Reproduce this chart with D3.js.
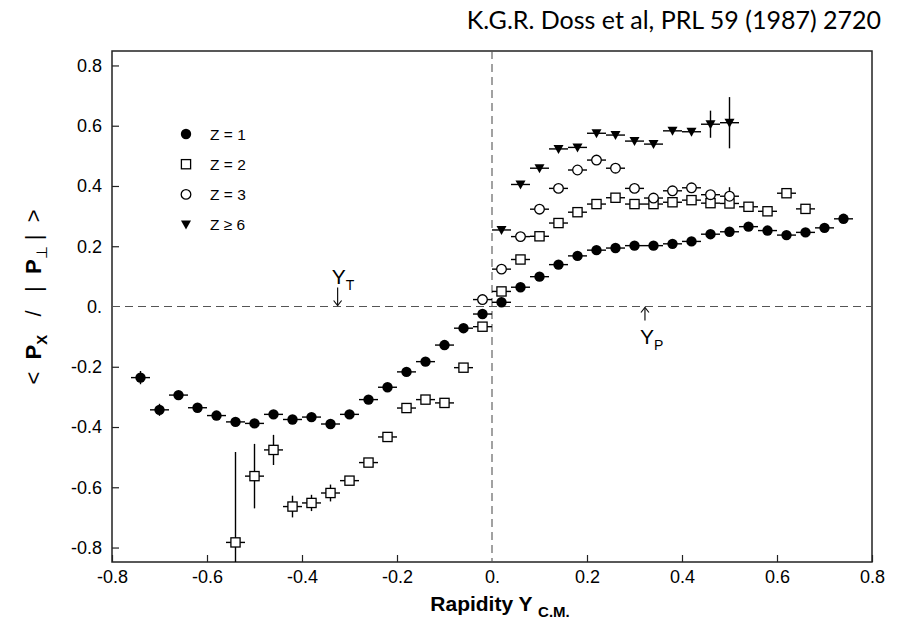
<!DOCTYPE html>
<html>
<head>
<meta charset="utf-8">
<script src="https://cdn.jsdelivr.net/npm/d3@7"></script>
<style>
  body { margin: 0; background: #fff; }
  text { font-family: "Liberation Sans", Arial, sans-serif; fill: #000; }
</style>
</head>
<body>
<svg id="chart" width="905" height="631"></svg>
<script>
// Z = 1 (filled circles)
var z1X = [-0.74, -0.70, -0.66, -0.62, -0.58, -0.54, -0.50, -0.46, -0.42, -0.38, -0.34, -0.30, -0.26,
           -0.22, -0.18, -0.14, -0.10, -0.06, -0.02, 0.02, 0.06, 0.10, 0.14, 0.18, 0.22, 0.26,
           0.30, 0.34, 0.38, 0.42, 0.46, 0.50, 0.54, 0.58, 0.62, 0.66, 0.70, 0.74];
var z1Y = [-0.236, -0.343, -0.294, -0.336, -0.362, -0.383, -0.388, -0.358, -0.375, -0.367, -0.390, -0.358, -0.309,
           -0.268, -0.217, -0.183, -0.128, -0.072, -0.025, 0.014, 0.064, 0.099, 0.139, 0.168, 0.187, 0.194,
           0.202, 0.202, 0.208, 0.216, 0.240, 0.248, 0.265, 0.252, 0.237, 0.246, 0.261, 0.291];
var z1Err = [0.022, 0.02, 0, 0, 0, 0, 0, 0, 0, 0, 0, 0, 0,
             0, 0, 0, 0, 0, 0, 0, 0, 0, 0, 0, 0, 0,
             0, 0, 0, 0, 0, 0, 0, 0, 0, 0, 0, 0];

// Z = 2 (open squares)
var z2X = [-0.54, -0.50, -0.46, -0.42, -0.38, -0.34, -0.30, -0.26, -0.22, -0.18, -0.14, -0.10, -0.06, -0.02,
           0.02, 0.06, 0.10, 0.14, 0.18, 0.22, 0.26, 0.30, 0.34, 0.38, 0.42, 0.46, 0.50, 0.54, 0.58, 0.62, 0.66];
var z2Y = [-0.783, -0.563, -0.476, -0.664, -0.652, -0.619, -0.578, -0.518, -0.433, -0.337, -0.309, -0.320, -0.203, -0.067,
           0.050, 0.156, 0.233, 0.277, 0.313, 0.340, 0.361, 0.340, 0.340, 0.346, 0.353, 0.343, 0.342, 0.331, 0.316, 0.376, 0.324];
var z2Err = [0.30, 0.107, 0.05, 0.036, 0.027, 0.028, 0, 0, 0, 0, 0, 0, 0, 0,
             0, 0, 0, 0, 0, 0, 0, 0, 0, 0, 0, 0, 0, 0, 0, 0, 0];

// Z = 3 (open circles)
var z3X = [-0.02, 0.02, 0.06, 0.10, 0.14, 0.18, 0.22, 0.26, 0.30, 0.34, 0.38, 0.42, 0.46, 0.50];
var z3Y = [0.023, 0.124, 0.232, 0.323, 0.392, 0.453, 0.486, 0.459, 0.392, 0.360, 0.384, 0.394, 0.371, 0.366];
var z3Err = [0, 0, 0, 0, 0, 0, 0, 0, 0, 0, 0, 0, 0.012, 0.03];

// Z >= 6 (filled down triangles)
var z6X = [0.02, 0.06, 0.10, 0.14, 0.18, 0.22, 0.26, 0.30, 0.34, 0.38, 0.42, 0.46, 0.50];
var z6Y = [0.254, 0.405, 0.459, 0.523, 0.528, 0.575, 0.569, 0.549, 0.539, 0.583, 0.580, 0.605, 0.610];
var z6Err = [0, 0, 0, 0, 0, 0, 0, 0, 0, 0, 0, 0.045, 0.085];

var xErr = 0.02;
var xTicks = [-0.8, -0.6, -0.4, -0.2, 0, 0.2, 0.4, 0.6, 0.8];
var yTicks = [-0.8, -0.6, -0.4, -0.2, 0, 0.2, 0.4, 0.6, 0.8];
var yTarget = -0.325, yProjectile = 0.322;   // Y_T, Y_P

var legendLabels = ['Z = 1', 'Z = 2', 'Z = 3', 'Z \u2265 6'];

var svg = d3.select('#chart');

var x = d3.scaleLinear().domain([-0.8, 0.8]).range([112, 872]);
var y = d3.scaleLinear().domain([-0.848, 0.848]).range([562, 51]);

// plain hyphen minus, "0." for zero, like the original figure
function fmt(d) { return d === 0 ? '0.' : d.toFixed(1); }

svg.append('clipPath').attr('id', 'plotclip')
  .append('rect')
  .attr('x', x(-0.8)).attr('y', y(0.848))
  .attr('width', x(0.8) - x(-0.8)).attr('height', y(-0.848) - y(0.848));

// axes
var xAxis = svg.append('g')
  .attr('transform', 'translate(0,' + y(-0.848) + ')')
  .call(d3.axisBottom(x).tickValues(xTicks).tickSize(-7).tickPadding(8).tickFormat(fmt));
var yAxis = svg.append('g')
  .attr('transform', 'translate(' + x(-0.8) + ',0)')
  .call(d3.axisLeft(y).tickValues(yTicks).tickSize(-7).tickPadding(10).tickFormat(fmt));
[xAxis, yAxis].forEach(function(a) {
  a.select('.domain').remove();
  a.selectAll('.tick line').attr('stroke', '#222').attr('stroke-width', 1.2);
  a.selectAll('.tick text').style('font-size', '18px').attr('fill', '#000')
   .style('font-family', '"Liberation Sans", Arial, sans-serif');
});
// zero ticks hidden behind dashed lines
xAxis.selectAll('.tick').filter(function(d) { return d === 0; }).select('line').remove();
yAxis.selectAll('.tick').filter(function(d) { return d === 0; }).select('line').remove();

// frame
svg.append('rect')
  .attr('x', x(-0.8)).attr('y', y(0.848))
  .attr('width', x(0.8) - x(-0.8)).attr('height', y(-0.848) - y(0.848))
  .attr('fill', 'none').attr('stroke', '#222').attr('stroke-width', 1.5);

// dashed zero lines
svg.append('line')
  .attr('x1', x(-0.8)).attr('x2', x(0.8)).attr('y1', y(0)).attr('y2', y(0))
  .attr('stroke', '#555').attr('stroke-width', 1.1).attr('stroke-dasharray', '8,5');
svg.append('line')
  .attr('x1', x(0)).attr('x2', x(0)).attr('y1', y(0.848)).attr('y2', y(-0.848))
  .attr('stroke', '#555').attr('stroke-width', 1.1).attr('stroke-dasharray', '8,5');

// data
var series = [
  { xs: z1X, ys: z1Y, es: z1Err, kind: 'dot' },
  { xs: z2X, ys: z2Y, es: z2Err, kind: 'square' },
  { xs: z3X, ys: z3Y, es: z3Err, kind: 'circle' },
  { xs: z6X, ys: z6Y, es: z6Err, kind: 'tri' }
];

var plot = svg.append('g').attr('clip-path', 'url(#plotclip)');

function drawMarker(g, kind, cx, cy) {
  if (kind === 'dot') {
    g.append('circle').attr('cx', cx).attr('cy', cy).attr('r', 5.2).attr('fill', '#000');
  } else if (kind === 'square') {
    g.append('rect').attr('x', cx - 4.6).attr('y', cy - 4.6).attr('width', 9.2).attr('height', 9.2)
      .attr('fill', '#fff').attr('stroke', '#000').attr('stroke-width', 1.3);
  } else if (kind === 'circle') {
    g.append('circle').attr('cx', cx).attr('cy', cy).attr('r', 4.8)
      .attr('fill', '#fff').attr('stroke', '#000').attr('stroke-width', 1.3);
  } else {
    g.append('path').attr('transform', 'translate(' + cx + ',' + cy + ')')
      .attr('d', 'M-5,-4L5,-4L0,5Z').attr('fill', '#000');
  }
}

series.forEach(function(s) {
  s.xs.forEach(function(xv, i) {
    var yv = s.ys[i];
    plot.append('line')
      .attr('x1', x(xv - xErr)).attr('x2', x(xv + xErr)).attr('y1', y(yv)).attr('y2', y(yv))
      .attr('stroke', '#000').attr('stroke-width', 1.4);
    if (s.es[i] > 0) {
      plot.append('line')
        .attr('x1', x(xv)).attr('x2', x(xv)).attr('y1', y(yv - s.es[i])).attr('y2', y(yv + s.es[i]))
        .attr('stroke', '#000').attr('stroke-width', 1.4);
    }
  });
});
series.forEach(function(s) {
  s.xs.forEach(function(xv, i) { drawMarker(plot, s.kind, x(xv), y(s.ys[i])); });
});

// legend
var legend = svg.append('g');
series.forEach(function(s, i) {
  var ly = 134 + i * 30.2;
  drawMarker(legend, s.kind, 186, ly);
  legend.append('text').attr('x', 210).attr('y', ly + 5.5)
    .style('font-size', '15.5px').text(legendLabels[i]);
});

// rapidity markers Y_T and Y_P
function arrow(xp, yFrom, yTo) {
  svg.append('line').attr('x1', xp).attr('x2', xp).attr('y1', yFrom).attr('y2', yTo)
    .attr('stroke', '#111').attr('stroke-width', 1.2);
  var dir = yTo > yFrom ? -1 : 1;
  svg.append('path')
    .attr('d', 'M' + (xp - 4) + ',' + (yTo + dir * 5) + 'L' + xp + ',' + yTo + 'L' + (xp + 4) + ',' + (yTo + dir * 5))
    .attr('fill', 'none').attr('stroke', '#111').attr('stroke-width', 1.2);
}
arrow(x(yTarget), y(0) - 19, y(0) - 1);
var yt = svg.append('text').attr('x', x(yTarget) - 6).attr('y', y(0) - 23).style('font-size', '21px');
yt.append('tspan').text('Y');
yt.append('tspan').attr('dy', 6).style('font-size', '14px').text('T');

arrow(x(yProjectile), y(0) + 14, y(0) + 1);
var yp = svg.append('text').attr('x', x(yProjectile) - 5).attr('y', y(0) + 37).style('font-size', '21px');
yp.append('tspan').text('Y');
yp.append('tspan').attr('dy', 6).style('font-size', '14px').text('P');

// axis titles
var xt = svg.append('text').attr('x', 500).attr('y', 611).attr('text-anchor', 'middle')
  .style('font-size', '21px').style('font-weight', 'bold').style('white-space', 'pre');
xt.append('tspan').text('Rapidity Y ');
xt.append('tspan').attr('dy', 6).style('font-size', '15px').text('C.M.');

var ytl = svg.append('text').attr('transform', 'translate(41,297) rotate(-90)')
  .attr('text-anchor', 'middle').style('font-size', '22px').style('white-space', 'pre');
ytl.append('tspan').text('<  ');
ytl.append('tspan').style('font-weight', 'bold').text('P');
ytl.append('tspan').attr('dy', 6).style('font-weight', 'bold').style('font-size', '15px').text('X');
ytl.append('tspan').attr('dy', -6).text('   /   |  ');
ytl.append('tspan').style('font-weight', 'bold').text('P');
ytl.append('tspan').attr('dy', 6).style('font-size', '15px').text('\u22a5');
ytl.append('tspan').attr('dy', -6).text(' |  >');

// reference
svg.append('text').attr('x', 881).attr('y', 29).attr('text-anchor', 'end')
  .style('font-family', 'Lato, "Open Sans", sans-serif').style('font-size', '25px')
  .text('K.G.R. Doss et al, PRL 59 (1987) 2720');
</script>
</body>
</html>
